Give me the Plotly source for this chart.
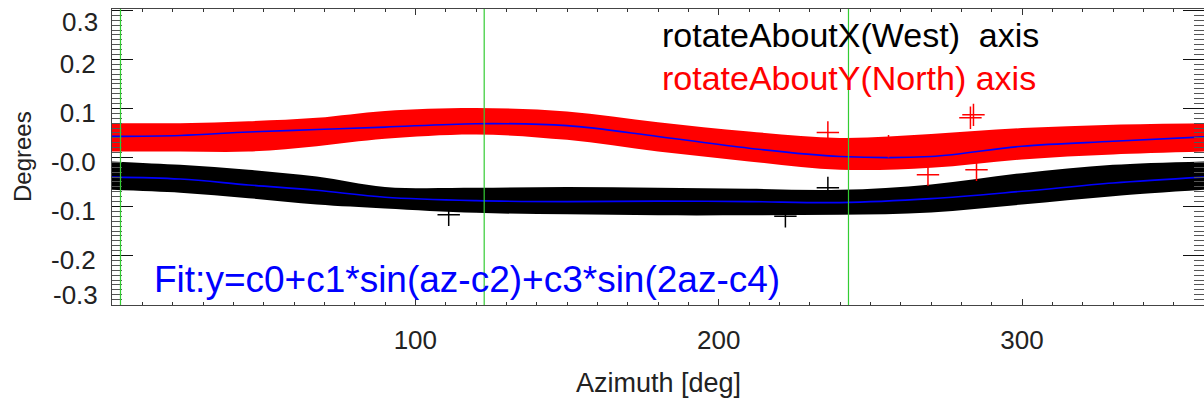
import plotly.graph_objects as go

# ---- data ----
azimuth = [0, 22.5, 45, 67.5, 90, 120, 150, 180, 210, 240, 270, 300, 330, 360]

north_fit = [0.043, 0.045, 0.052, 0.057, 0.062, 0.069, 0.065, 0.043, 0.019, 0.002, 0.002, 0.023, 0.033, 0.042]
north_top = [0.070, 0.070, 0.074, 0.081, 0.095, 0.101, 0.094, 0.072, 0.053, 0.040, 0.048, 0.060, 0.067, 0.070]
north_bot = [0.012, 0.012, 0.012, 0.023, 0.038, 0.047, 0.036, 0.012, -0.008, -0.025, -0.021, -0.004, 0.006, 0.012]

west_fit = [-0.040, -0.044, -0.056, -0.067, -0.081, -0.088, -0.090, -0.089, -0.090, -0.092, -0.084, -0.069, -0.052, -0.040]
west_top = [-0.008, -0.015, -0.025, -0.039, -0.060, -0.062, -0.060, -0.062, -0.064, -0.066, -0.055, -0.032, -0.015, -0.008]
west_bot = [-0.066, -0.072, -0.083, -0.096, -0.104, -0.113, -0.116, -0.118, -0.118, -0.117, -0.112, -0.096, -0.079, -0.066]

north_out_az = [236, 256, 269, 283, 284, 285]
north_out_val = [0.051, 0.023, -0.035, 0.081, 0.087, -0.025]
west_out_az = [236, 222, 111]
west_out_val = [-0.062, -0.120, -0.117]

marker_az = [2.8, 122.7, 242.8]

y_tickvals = [-0.3, -0.2, -0.1, 0.0, 0.1, 0.2, 0.3]
y_ticktext = ["", "-0.2", "-0.1", "-0.0", "0.1", "0.2", ""]
x_tickvals = [100, 200, 300]
x_ticktext = ["100", "200", "300"]

FONT = "Liberation Sans"

fig = go.Figure()

def band(top, bot, color):
    fig.add_trace(go.Scatter(x=azimuth, y=top, mode="lines", line=dict(width=0, color=color, shape="spline"),
                             showlegend=False, hoverinfo="skip"))
    fig.add_trace(go.Scatter(x=azimuth, y=bot, mode="lines", line=dict(width=0, color=color, shape="spline"),
                             fill="tonexty", fillcolor=color, showlegend=False, hoverinfo="skip"))

band(west_top, west_bot, "#000000")
band(north_top, north_bot, "#ff0000")

for fit in (west_fit, north_fit):
    fig.add_trace(go.Scatter(x=azimuth, y=fit, mode="lines", line=dict(color="#0000ff", width=1.6, shape="spline"),
                             showlegend=False))

fig.add_trace(go.Scatter(x=north_out_az, y=north_out_val, mode="markers",
                         marker=dict(symbol="cross-thin-open", size=16, color="#ff0000",
                                     line=dict(color="#ff0000", width=1.5)),
                         showlegend=False))
fig.add_trace(go.Scatter(x=west_out_az, y=west_out_val, mode="markers",
                         marker=dict(symbol="cross-thin-open", size=16, color="#000000",
                                     line=dict(color="#000000", width=1.5)),
                         showlegend=False))

for az in marker_az:
    fig.add_shape(type="line", xref="x", yref="paper", x0=az, x1=az, y0=0, y1=1,
                  line=dict(color="#33cc33", width=1.2), layer="above")

annotations = [
    dict(text="rotateAboutX(West)  axis", x=0.502, y=0.913, xref="paper", yref="paper", xanchor="left",
         yanchor="middle", showarrow=False, font=dict(family=FONT, size=34, color="#000000")),
    dict(text="rotateAboutY(North) axis", x=0.502, y=0.768, xref="paper", yref="paper", xanchor="left",
         yanchor="middle", showarrow=False, font=dict(family=FONT, size=34, color="#ff0000")),
    dict(text="Fit:y=c0+c1*sin(az-c2)+c3*sin(2az-c4)", x=0.0366, y=0.085, xref="paper", yref="paper",
         xanchor="left", yanchor="middle", showarrow=False, font=dict(family=FONT, size=37, color="#0000ff")),
    dict(text="0.3", x=-12 / 1092, y=0.3, xref="paper", yref="y", xanchor="right", yanchor="middle",
         yshift=-12, showarrow=False, font=dict(family=FONT, size=26, color="#222222")),
    dict(text="-0.3", x=-12 / 1092, y=-0.3, xref="paper", yref="y", xanchor="right", yanchor="middle",
         yshift=10, showarrow=False, font=dict(family=FONT, size=26, color="#222222")),
    dict(text="Degrees", x=-90 / 1092, y=0.5, xref="paper", yref="paper", xanchor="center", yanchor="middle",
         textangle=-90, showarrow=False, font=dict(family=FONT, size=24, color="#222222")),
    dict(text="Azimuth [deg]", x=0.5, y=-0.2625, xref="paper", yref="paper", xanchor="center", yanchor="middle",
         showarrow=False, font=dict(family=FONT, size=27, color="#222222")),
]

fig.update_layout(
    width=1204, height=402,
    margin=dict(l=112, r=0, t=9, b=97, autoexpand=False),
    paper_bgcolor="white", plot_bgcolor="white",
    showlegend=False,
    annotations=annotations,
    font=dict(family=FONT, color="#222222"),
    xaxis=dict(range=[0, 360], showgrid=False, zeroline=False, showline=True, linecolor="#444444", linewidth=1,
               mirror="allticks", ticks="inside", ticklen=6, tickcolor="#333333", tickwidth=1, automargin=False,
               tickmode="array", tickvals=x_tickvals, ticktext=x_ticktext,
               tickfont=dict(family=FONT, size=26, color="#222222"), ticklabelstandoff=12,
               minor=dict(tickmode="linear", tick0=0, dtick=10, ticks="inside", ticklen=3, tickcolor="#333333")),
    yaxis=dict(range=[-0.301, 0.303], showgrid=False, zeroline=False, showline=True, linecolor="#444444",
               linewidth=1, mirror="allticks", ticks="inside", ticklen=21, tickcolor="#111111", tickwidth=1,
               automargin=False,
               tickmode="array", tickvals=y_tickvals, ticktext=y_ticktext,
               tickfont=dict(family=FONT, size=26, color="#222222"), ticklabelshift=4, ticklabelstandoff=10,
               minor=dict(tickmode="linear", tick0=0, dtick=0.01, ticks="inside", ticklen=10, tickcolor="#555555")),
)

fig.write_html("out.html", config={"displayModeBar": False},
               post_script="document.body.style.margin='0';document.body.style.overflow='hidden';")
